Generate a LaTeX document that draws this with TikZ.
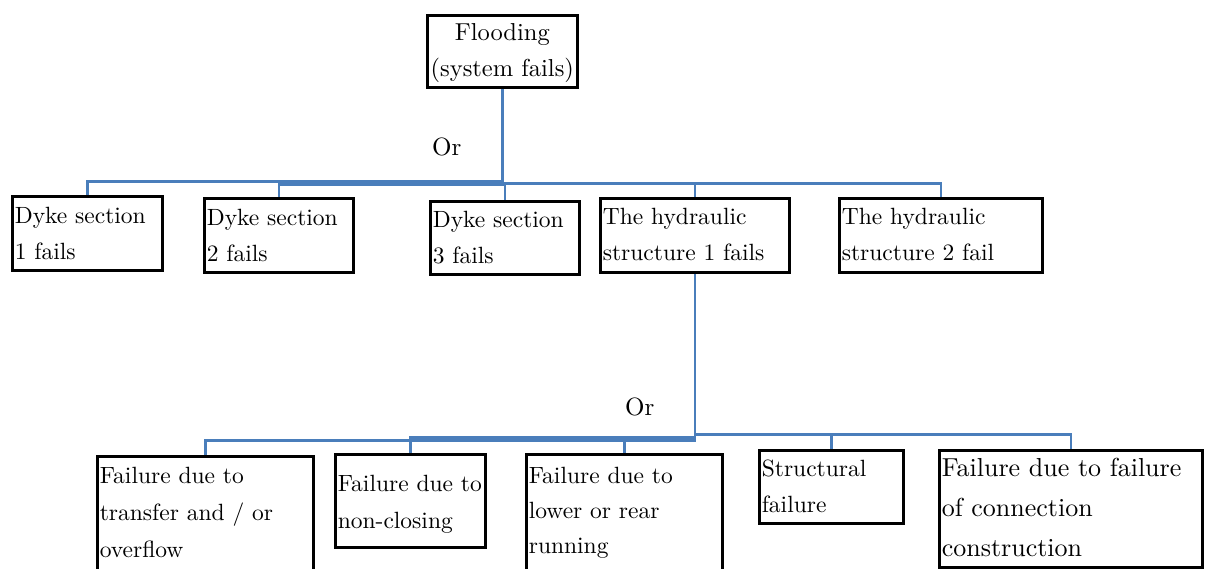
\documentclass[tikz,border=0pt]{standalone}
\usepackage{fontspec}
\setmainfont{lmroman10-regular.otf}
\usetikzlibrary{backgrounds}
\definecolor{linkblue}{RGB}{74,126,187}
\begin{document}
\begin{tikzpicture}[x=1pt,y=-1pt,
  box/.style={draw=black, line width=2.6pt, align=left, anchor=north west,
    inner xsep=2.5pt, inner ysep=0pt, font=\fontsize{23.5}{36}\selectfont},
  link/.style={draw=linkblue, line width=2.4pt},
  gate/.style={font=\fontsize{25}{28}\selectfont, anchor=base west, inner sep=0pt}]
\useasboundingbox (0,0) rectangle (1208,568);

% top event
\node[box, align=center, font=\fontsize{24.5}{36}\selectfont,
  text width=145pt, text height=25.5pt, text depth=46.5pt]
  (flood) at (426,14) {Flooding\\(system fails)};

% first level
\node[box, text width=145pt, text height=27pt, text depth=47pt]
  (d1) at (11,195) {Dyke section\\1 fails};
\node[box, text width=144pt, text height=27pt, text depth=47pt]
  (d2) at (203,197) {Dyke section\\2 fails};
\node[box, text width=144pt, text height=26pt, text depth=47pt]
  (d3) at (429,200) {Dyke section\\3 fails};
\node[box, text width=184pt, text height=26pt, text depth=48pt]
  (hs1) at (599,197) {The hydraulic\\structure 1 fails};
\node[box, text width=198pt, text height=26pt, text depth=48pt]
  (hs2) at (838,197) {The hydraulic\\structure 2 fail};

% second level, below structure 1
\node[box, font=\fontsize{23.5}{37}\selectfont, text width=211pt, text height=27pt, text depth=108pt]
  (f1) at (96,455) {Failure due to\\transfer and / or\\overflow};
\node[box, font=\fontsize{23.5}{37}\selectfont, text width=145pt, text height=37pt, text depth=56pt]
  (f2) at (334,453) {Failure~due~to\\non-closing};
\node[box, font=\fontsize{23.5}{35}\selectfont, text width=191pt, text height=29pt, text depth=108pt]
  (f3) at (525,453) {Failure due to\\lower or rear\\running};
\node[box, text width=139pt, text height=26pt, text depth=47pt]
  (f4) at (758,449) {Structural\\failure};
\node[box, font=\fontsize{26}{40}\selectfont, text width=258pt, text height=26pt, text depth=91pt]
  (f5) at (938,449) {Failure due to failure\\of connection\\construction};

% gate labels
\node[gate] (or1) at (432,155) {Or};
\node[gate] (or2) at (625,415) {Or};

% connectors
\begin{scope}[on background layer]
  \path[link] (flood.south) -- ++(0,93) -| (d1.north);
  \path[link] (flood.south) -- ++(0,96) -| (d2.north);
  \path[link] (flood.south) -- ++(0,96) -| (d3.north);
  \path[link] (flood.south) -- ++(0,95) -| (hs1.north);
  \path[link] (flood.south) -- ++(0,95) -| (hs2.north);

  \path[link] (hs1.south) -- ++(0,167) -| (f1.north);
  \path[link] (hs1.south) -- ++(0,164) -| (f2.north);
  \path[link] (hs1.south) -- ++(0,164) -| (f3.north);
  \path[link] (hs1.south) -- ++(0,161) -| (f4.north);
  \path[link] (hs1.south) -- ++(0,161) -| (f5.north);
\end{scope}
\end{tikzpicture}
\end{document}
